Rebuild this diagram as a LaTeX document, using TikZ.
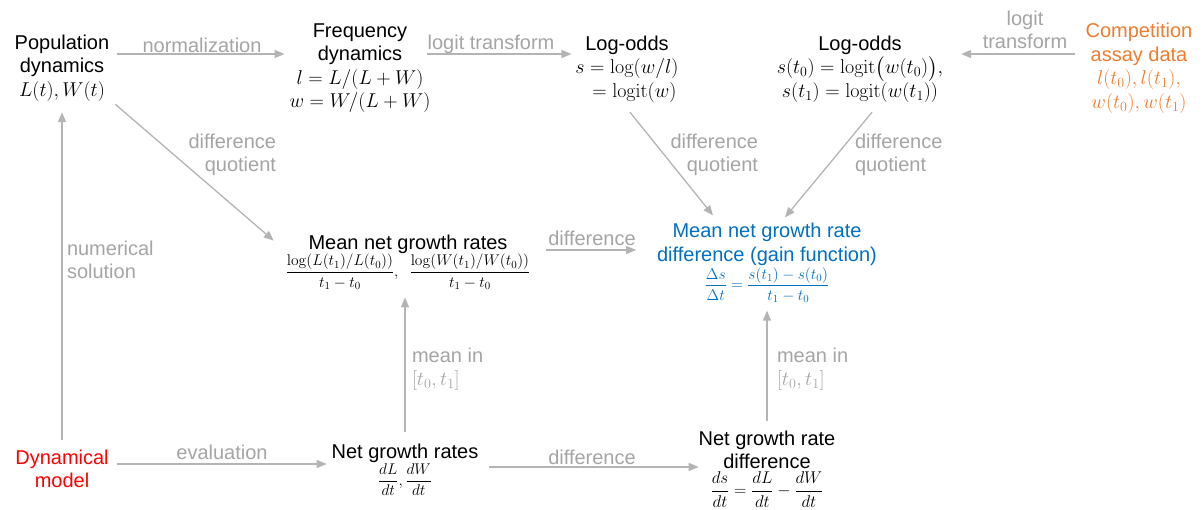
\RequirePackage{fix-cm}
\documentclass[tikz,border=0pt]{standalone}
\usepackage{amsmath}
\usepackage[no-math]{fontspec}
\setmainfont{Liberation Sans}
\usetikzlibrary{arrows.meta,calc}
\definecolor{lblgray}{RGB}{165,165,165}
\definecolor{arrgray}{RGB}{180,180,180}
\definecolor{ored}{RGB}{255,0,0}
\definecolor{oorange}{RGB}{237,125,49}
\definecolor{oblue}{RGB}{0,112,192}
\newcommand\mainfs{\fontsize{20}{23.5}\selectfont}
\newcommand\smallmath{\fontsize{15.5}{18}\selectfont}
\newcommand\midmath{\fontsize{17}{20}\selectfont}
\begin{document}
\begin{tikzpicture}[x=1pt,y=-1pt,
  every node/.style={inner sep=0pt,outer sep=0pt,font=\mainfs,align=center},
  box/.style={text=black},
  lbl/.style={text=lblgray},
  arr/.style={draw=arrgray,line width=1.3pt,-{Triangle[length=10pt,width=8pt]}}]
\useasboundingbox[fill=white] (0,0) rectangle (1203,510);

% main nodes
\node[box] (pop) at (62,68) {Population\\dynamics\\$L(t), W(t)$};
\node[box] (freq) at (360,68) {Frequency\\dynamics\\$l=L/(L+W)$\\$w=W/(L+W)$};
\node[box] (lo1) at (627,69) {Log-odds\\$s=\log(w/l)$\\$\phantom{s}=\operatorname{logit}(w)$};
\node[box] (lo2) at (860,69) {Log-odds\\$s(t_0)=\operatorname{logit}\bigl(w(t_0)\bigr),$\\$s(t_1)=\operatorname{logit}(w(t_1))$};
\node[box,text=oorange] (comp) at (1139,68) {Competition\\assay data\\$l(t_0),l(t_1),$\\$w(t_0),w(t_1)$};
\node[box] (mean) at (408,262) {Mean net growth rates\\{\smallmath$\dfrac{\log(L(t_1)/L(t_0))}{t_1-t_0},\;\; \dfrac{\log(W(t_1)/W(t_0))}{t_1-t_0}$}};
\node[box,text=oblue] (gain) at (767,263) {Mean net growth rate\\difference (gain function)\\[1pt]{\smallmath$\dfrac{\Delta s}{\Delta t}=\dfrac{s(t_1)-s(t_0)}{t_1-t_0}$}};
\node[box,text=ored] (dyn) at (62,469) {Dynamical\\model};
\node[box] (net) at (405,470) {Net growth rates\\{\smallmath$\dfrac{dL}{dt},\dfrac{dW}{dt}$}};
\node[box] (nd) at (767,469) {Net growth rate\\difference\\[2pt]{\midmath$\dfrac{ds}{dt}=\dfrac{dL}{dt}-\dfrac{dW}{dt}$}};

% labels
\node[lbl] (l1) at (202,45) {normalization};
\node[lbl] (l2) at (491,44) {logit transform};
\node[lbl] (l3) at (1025,30) {logit\\transform};
\node[lbl,align=right,anchor=east] (l4) at (276,155) {difference\\quotient};
\node[lbl,align=left,anchor=west] (l5) at (67,260) {numerical\\solution};
\node[lbl,align=right,anchor=east] (l6) at (758,155) {difference\\quotient};
\node[lbl,align=left,anchor=west] (l7) at (855,155) {difference\\quotient};
\node[lbl] (l8) at (592,238) {difference};
\node[lbl] (l9) at (222,452) {evaluation};
\node[lbl] (l10) at (592,457) {difference};
\node[lbl,align=left,anchor=west] (l11) at (412,369) {mean in\\$[t_0,t_1]$};
\node[lbl,align=left,anchor=west] (l12) at (777,369) {mean in\\$[t_0,t_1]$};

% connectors
\draw[arr] ($(pop.east)+(8,-14)$) -- ($(freq.west |- pop.east)+(-5,-14)$);
\draw[arr] ($(freq.east |- pop.east)+(-3,-14)$) -- ($(lo1.west |- pop.east)+(-4,-14)$);
\draw[arr] ($(comp.west |- pop.east)+(-11,-14)$) -- ($(lo2.east |- pop.east)+(18,-14)$);
\draw[arr] ($(pop.south east)+(6,3)$) -- ($(mean.north west)+(-12,6)$);
\draw[arr] ($(dyn.north)+(0,-10)$) -- ($(pop.south)+(0,11)$);
\draw[arr] ($(dyn.east)+(8,-5)$) -- ($(net.west |- dyn.east)+(-5,-5)$);
\draw[arr] ($(net.north)+(0,-12)$) -- ($(net.north |- mean.south)+(0,8)$);
\draw[arr] ($(net.east)+(11,-3)$) -- ($(nd.west |- net.east)+(0,-3)$);
\draw[arr] ($(nd.north)+(0,-10)$) -- ($(gain.south)+(0,8)$);
\draw[arr] ($(mean.east)+(16,-12)$) -- ($(gain.west |- mean.east)+(-21,-12)$);
\draw[arr] ($(lo1.south)+(3,10)$) -- ($(gain.north)+(-54,-8)$);
\draw[arr] ($(lo2.south)+(12,10)$) -- ($(gain.north)+(18,-6)$);
\end{tikzpicture}
\end{document}
